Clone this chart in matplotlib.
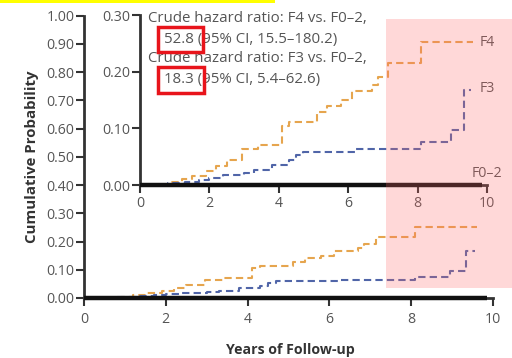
import matplotlib
matplotlib.use("Agg")
import matplotlib.pyplot as plt
from matplotlib.patches import Rectangle

plt.rcParams['font.family'] = ['Open Sans', 'DejaVu Sans']

# F4 cumulative incidence steps (years, probability)
f4_times = [0, 0.9, 1.2, 1.5, 1.9, 2.2, 2.5, 2.95, 3.4, 4.1, 4.3, 5.1, 5.4, 5.8, 6.1, 6.7, 6.85, 7.15, 8.1]
f4_vals = [0, 0.005, 0.010, 0.016, 0.024, 0.034, 0.045, 0.064, 0.070, 0.105, 0.112, 0.128, 0.140, 0.150, 0.166, 0.176, 0.190, 0.215, 0.252]
f4_end = 9.6

f3_times = [0, 0.8, 1.3, 1.7, 2.0, 2.4, 3.0, 3.3, 3.8, 4.3, 4.5, 4.7, 6.2, 8.1, 8.95, 9.35]
f3_vals = [0, 0.003, 0.006, 0.009, 0.013, 0.017, 0.021, 0.026, 0.035, 0.044, 0.053, 0.059, 0.063, 0.076, 0.097, 0.168]
f3_end = 9.55

f02_end = 9.85

series_labels = ["F4", "F3", "F0\u20132"]
hr_lines = ["Crude hazard ratio: F4 vs. F0\u20132,", "52.8 (95% CI, 15.5\u2013180.2)",
            "Crude hazard ratio: F3 vs. F0\u20132,", "18.3 (95% CI, 5.4\u201362.6)"]

main_yticks = [i / 10 for i in range(11)]
inset_yticks = [0.0, 0.1, 0.2, 0.3]
xticks = [0, 2, 4, 6, 8, 10]

C_F4 = '#E6A54E'
C_F3 = '#5065A8'
C_AX = '#333333'
FS = 10.2
FT = 10.8

fig = plt.figure(figsize=(5.12, 3.58), dpi=100)

def style(ax, yt, ylim):
    ax.set_xlim(0, 10)
    ax.set_ylim(*ylim)
    ax.set_xticks(xticks)
    ax.set_yticks(yt)
    ax.set_yticklabels([f"{v:.2f}" for v in yt])
    for s in ['top', 'right']:
        ax.spines[s].set_visible(False)
    for s in ['left', 'bottom']:
        ax.spines[s].set_color(C_AX)
        ax.spines[s].set_linewidth(2)
    ax.tick_params(direction='out', length=6, width=1.5, color=C_AX,
                   labelsize=FS, labelcolor='#555555', pad=1)

def steps(times, vals, end):
    return list(times) + [end], list(vals) + [vals[-1]]

def draw_curves(ax):
    x, y = steps(f4_times, f4_vals, f4_end)
    ax.step(x, y, where='post', color=C_F4, lw=1.5, dashes=(3.5, 2), clip_on=False)
    x, y = steps(f3_times, f3_vals, f3_end)
    ax.step(x, y, where='post', color=C_F3, lw=1.5, dashes=(3.5, 2), clip_on=False)
    ax.plot([0, f02_end], [0, 0], color='#111111', lw=3.2, solid_capstyle='butt',
            clip_on=False, zorder=5)

# main axes
ax = fig.add_axes([0.164, 0.1676, 0.799, 0.789])
style(ax, main_yticks, (0, 1))
ax.tick_params(axis='x', pad=4)
ax.patch.set_alpha(0)
draw_curves(ax)
ax.set_ylabel("Cumulative Probability", fontsize=FT, fontweight='bold', color='#333333', labelpad=5)
fig.text(290 / 512, 1 - 350 / 358, "Years of Follow-up", fontsize=FS, fontweight='bold',
         color='#333333', ha='center', va='center')

# inset axes
ai = fig.add_axes([0.2734, 0.4832, 0.6777, 0.4749])
style(ai, inset_yticks, (0, 0.3))
ai.tick_params(axis='x', pad=2)
ai.patch.set_facecolor('white')
draw_curves(ai)
ai.text(9.8, 0.252, series_labels[0], fontsize=FS, color='#555555', va='center')
ai.text(9.8, 0.171, series_labels[1], fontsize=FS, color='#555555', va='center')
ai.text(9.55, 0.020, series_labels[2], fontsize=FS, color='#555555', va='center', clip_on=False)

# hazard ratio text (figure pixel coordinates)
def ftxt(x, y, s, **kw):
    fig.text(x / 512, 1 - y / 358, s, fontsize=FT, color='#555555', va='center', **kw)

ftxt(148, 18, hr_lines[0])
ftxt(164, 39, hr_lines[1])
ftxt(148, 59, hr_lines[2])
ftxt(164, 80, hr_lines[3])

# red boxes
for (x0, y0, x1, y1) in [(158, 27, 203, 52), (158, 67, 204, 93)]:
    fig.add_artist(Rectangle((x0 / 512, 1 - y1 / 358), (x1 - x0) / 512, (y1 - y0) / 358,
                             transform=fig.transFigure, fill=False, ec='#E8141B', lw=2.5, zorder=20))

# pink overlay
fig.add_artist(Rectangle((386 / 512, 1 - 288 / 358), (512 - 386) / 512, (288 - 19) / 358,
                         transform=fig.transFigure, fc=(1, 0.4, 0.4), alpha=0.25, ec='none', zorder=30))
# yellow highlight bar
fig.add_artist(Rectangle((0, 1 - 3 / 358), 275 / 512, 3 / 358,
                         transform=fig.transFigure, fc='#FFFF00', ec='none', zorder=30))

fig.savefig("out.png", dpi=100)
